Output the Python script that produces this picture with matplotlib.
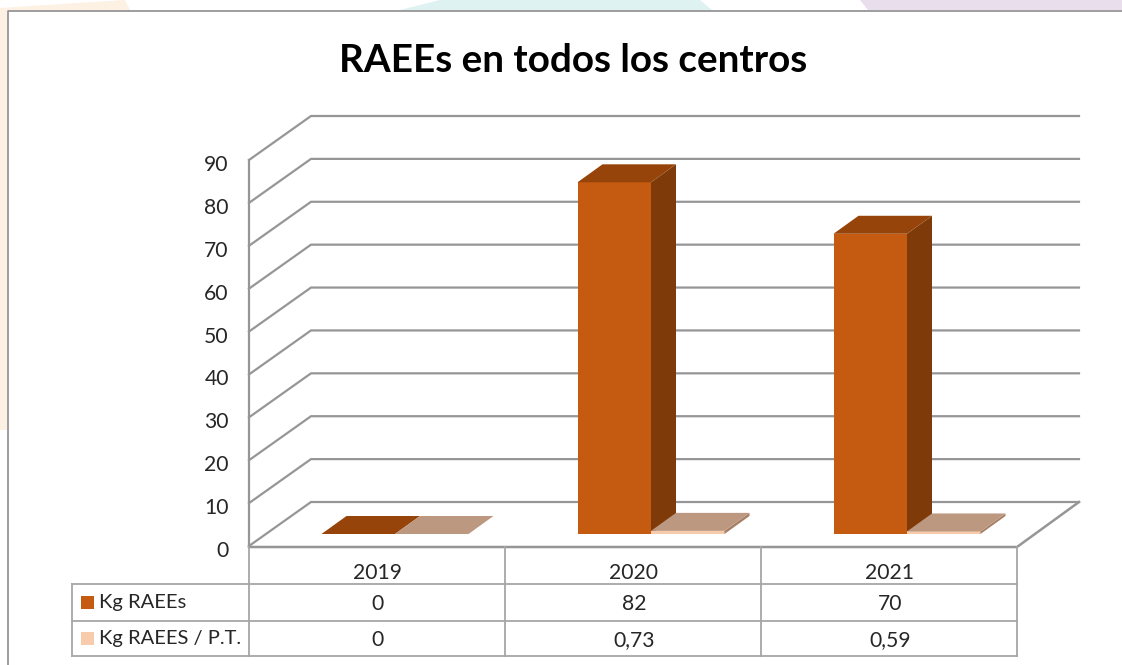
import matplotlib
matplotlib.use("Agg")
import matplotlib.pyplot as plt
from matplotlib.patches import Polygon, Rectangle
from matplotlib.transforms import ScaledTranslation

years = ["2019", "2020", "2021"]
kg_raees = [0, 82, 70]
kg_pt = [0, 0.73, 0.59]
kg_pt_labels = ["0", "0,73", "0,59"]
series_names = ["Kg RAEEs", "Kg RAEES / P.T."]
y_ticks = list(range(0, 100, 10))

W, H = 1122, 665
plt.rcParams["font.family"] = ["Lato", "DejaVu Sans"]

fig = plt.figure(figsize=(W / 100, H / 100), dpi=100, facecolor="white")


def fig_rect(x0, y0, x1, y1, color, **kw):
    # rectangle given in screenshot pixels (y goes down)
    fig.patches.append(Rectangle((x0 / W, 1 - y1 / H), (x1 - x0) / W, (y1 - y0) / H,
                                 transform=fig.transFigure, facecolor=color, edgecolor="none", **kw))


def fig_poly(pts, color):
    fig.patches.append(Polygon([(x / W, 1 - y / H) for x, y in pts], closed=True,
                               transform=fig.transFigure, facecolor=color, edgecolor="none"))


# slide background peeking out behind the chart frame
fig_poly([(0, 10), (0, 8), (125, 0), (130, 10)], "#FDF1E3")
fig_rect(0, 10, 7, 430, "#FDF1E3")
fig_poly([(400, 10), (440, 0), (700, 0), (712, 10)], "#DFF2F2")
fig_poly([(860, 0), (1122, 0), (1122, 10), (868, 10)], "#E8DEEC")
fig_rect(7, 10, W, H, "white")
fig.add_artist(plt.Line2D([7.5 / W, 7.5 / W, 1], [0, 1 - 10.5 / H, 1 - 10.5 / H], color="#8C8C8C", lw=1.2))

# front plane of the chart: x 249..1017, value 0..90 = y 546..160
ax = fig.add_axes([249 / W, 1 - 546 / H, 768 / W, 386 / H])
ax.set_zorder(5)
ax.set_xlim(0, 3)
ax.set_ylim(0, 90)
ax.patch.set_alpha(0)
for s in ax.spines.values():
    s.set_visible(False)
ax.set_xticks([])
ax.set_yticks(y_ticks)
ax.tick_params(axis="y", length=0, pad=14.5, labelsize=15.2, labelcolor="#262626")
down = ScaledTranslation(0, -3 / 100, fig.dpi_scale_trans)
for lab in ax.get_yticklabels():
    lab.set_transform(lab.get_transform() + down)

PX = 3 / 768
PY = 90 / 386
wall_dx, wall_dy = 62 * PX, 44 * PY
lift_dx, lift_dy = 18 * PX, 12 * PY
bar_dx, bar_dy = 25 * PX, 18 * PY
bar_w = 73.5 * PX
grid_c = "#969696"

# walls
for v in y_ticks:
    ax.plot([0, wall_dx, 3 + wall_dx], [v, v + wall_dy, v + wall_dy], color=grid_c, lw=1.6,
            clip_on=False, solid_joinstyle="miter", zorder=1)
ax.plot([0, 0], [0, 90], color=grid_c, lw=1.6, clip_on=False, zorder=1)
ax.plot([0, 3, 3 + wall_dx], [-1 * PY, -1 * PY, wall_dy], color=grid_c, lw=1.8, clip_on=False, zorder=1)

series_cols = [("#C55A11", "#7F3A0A", "#964409"), ("#F8CBAD", "#A97F64", "#BC9880")]
for k, vals in enumerate([kg_raees, kg_pt]):
    front, side, top = series_cols[k]
    for i, v in enumerate(vals):
        x0 = i + 0.5 + lift_dx + (k - 1) * bar_w
        x1 = x0 + bar_w
        y0, y1 = lift_dy, lift_dy + v
        ax.bar(x0, v, bar_w, bottom=y0, align="edge", color=front, zorder=3 + k)
        ax.add_patch(Polygon([(x1, y0), (x1 + bar_dx, y0 + bar_dy), (x1 + bar_dx, y1 + bar_dy), (x1, y1)],
                             facecolor=side, edgecolor="none", zorder=3 + k, clip_on=False))
        ax.add_patch(Polygon([(x0, y1), (x1, y1), (x1 + bar_dx, y1 + bar_dy), (x0 + bar_dx, y1 + bar_dy)],
                             facecolor=top, edgecolor="none", zorder=3 + k, clip_on=False))

# data table under the plot, row lines at y 584, 621, 656
table_c = "#A6A6A6"
head_x = -177 * PX
rows = [-1 * PY, -38 * PY, -75 * PY, -110 * PY]
for n, y in enumerate(rows):
    if n > 0:
        ax.plot([head_x, 3], [y, y], color=table_c, lw=1.3, clip_on=False)
for i in range(4):
    ax.plot([i, i], [rows[0], rows[3]], color=table_c, lw=1.3, clip_on=False)
ax.plot([head_x, head_x], [rows[1], rows[3]], color=table_c, lw=1.3, clip_on=False)

txt = dict(ha="center", va="center", fontsize=15.2, color="#262626", clip_on=False)
for i in range(3):
    ax.text(i + 0.5 + 1 * PX, -27 * PY, years[i], **txt)
    ax.text(i + 0.5 + 1 * PX, (rows[1] + rows[2]) / 2 - 2 * PY, str(kg_raees[i]), **txt)
    ax.text(i + 0.5 + 1 * PX, (rows[2] + rows[3]) / 2 - 2 * PY, kg_pt_labels[i], **txt)
for k in range(2):
    yc = (rows[k + 1] + rows[k + 2]) / 2
    ax.add_patch(Rectangle((head_x + 9 * PX, yc - 6 * PY), 13 * PX, 13 * PY, facecolor=series_cols[k][0],
                           edgecolor="none", clip_on=False))
    ax.text(head_x + 27 * PX, yc, series_names[k], ha="left", va="center", fontsize=14.5, color="#262626", clip_on=False)

fig.text(573 / W, 1 - 60 / H, "RAEEs en todos los centros", ha="center", va="center",
         fontsize=27.8, fontweight="bold", color="black")

fig.savefig("out.png", dpi=100)
